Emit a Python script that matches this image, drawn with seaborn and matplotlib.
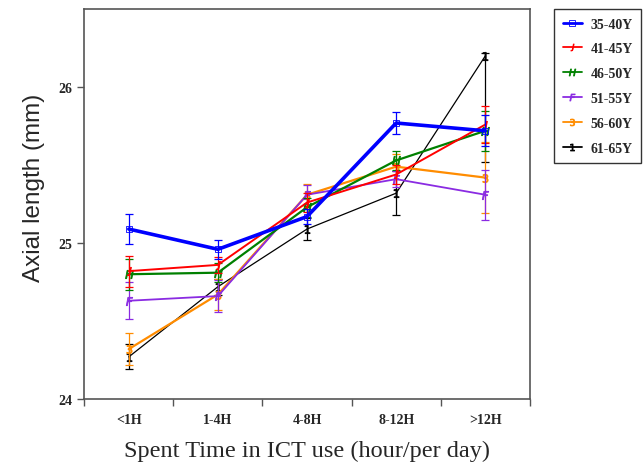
import numpy as np
import pandas as pd
import matplotlib
matplotlib.use("Agg")
import matplotlib.pyplot as plt
import seaborn as sns

categories = ['<1H', '1-4H', '4-8H', '8-12H', '>12H']
groups = ['35-40Y', '41-45Y', '46-50Y', '51-55Y', '56-60Y', '61-65Y']

y_35_40 = [25.09, 24.96, 25.17, 25.77, 25.72]
y_41_45 = [24.82, 24.86, 25.26, 25.44, 25.76]
y_46_50 = [24.80, 24.81, 25.23, 25.53, 25.72]
y_51_55 = [24.63, 24.66, 25.31, 25.41, 25.31]
y_56_60 = [24.32, 24.67, 25.31, 25.49, 25.42]
y_61_65 = [24.27, 24.72, 25.09, 25.32, 26.20]

# error bars (lower, upper)
e_35_40 = [[0.095, 0.06, 0.05, 0.07, 0.10], [0.095, 0.06, 0.05, 0.07, 0.10]]
e_41_45 = [[0.10, 0.05, 0.06, 0.06, 0.12], [0.10, 0.05, 0.06, 0.06, 0.12]]
e_46_50 = [[0.10, 0.06, 0.06, 0.06, 0.13], [0.10, 0.06, 0.06, 0.06, 0.13]]
e_51_55 = [[0.12, 0.10, 0.06, 0.05, 0.16], [0.12, 0.10, 0.06, 0.05, 0.16]]
e_56_60 = [[0.10, 0.10, 0.07, 0.08, 0.23], [0.10, 0.10, 0.07, 0.08, 0.23]]
e_61_65 = [[0.08, 0.05, 0.07, 0.14, 0.68], [0.08, 0.05, 0.07, 0.14, 0.02]]

values = [y_35_40, y_41_45, y_46_50, y_51_55, y_56_60, y_61_65]
errors = [e_35_40, e_41_45, e_46_50, e_51_55, e_56_60, e_61_65]

colors = ['#0000ff', '#ff0000', '#008000', '#8a2be2', '#ff8c00', '#000000']
markers = ['s', '$J$', '$H$', '$F$', '$3$', '$1$']
widths = [2.6, 1.4, 1.6, 1.3, 1.6, 0.9]

rows = []
for g, vals in zip(groups, values):
    for i, c in enumerate(categories):
        rows.append({'group': g, 'pos': i, 'time': c, 'al': vals[i]})
df = pd.DataFrame(rows)

sns.set_style('ticks')
plt.rcParams['font.family'] = ['Liberation Serif', 'DejaVu Serif']

fig = plt.figure(figsize=(6.43, 4.64), dpi=100)
ax = fig.add_axes([0.131, 0.138, 0.693, 0.840])

order = [5, 4, 3, 2, 1, 0]
for k in order:
    g = groups[k]
    sub = df[df['group'] == g]
    ax.errorbar(sub['pos'], sub['al'], yerr=np.array(errors[k]), fmt='none',
                ecolor=colors[k], elinewidth=0.9, capsize=3, capthick=0.9,
                zorder=2 + (6 - k))
    sns.lineplot(data=sub, x='pos', y='al', ax=ax, color=colors[k],
                 linewidth=widths[k], marker=markers[k],
                 markersize=5 if k == 0 else 6,
                 markerfacecolor='none' if k == 0 else colors[k],
                 markeredgecolor=colors[k], markeredgewidth=0.6,
                 label=g, zorder=3 + (6 - k), legend=False)

ax.set_xlim(-0.5, 4.5)
ax.set_ylim(24, 26.5)
ax.set_yticks([24, 25, 26])
ax.set_yticklabels(['24', '25', '26'], fontsize=10, fontweight='bold')
ax.set_xticks(range(5))
ax.set_xticklabels(categories, fontsize=10, fontweight='bold')
ax.tick_params(axis='x', which='major', length=0, pad=10)
ax.set_xticks(np.arange(-0.5, 5, 1), minor=True)
ax.tick_params(axis='x', which='minor', length=5, width=1, color='#555555')
ax.tick_params(axis='y', length=5, width=1, color='#555555')
for s in ax.spines.values():
    s.set_color('#555555')
    s.set_linewidth(1.2)

ax.set_xlabel('Spent Time in ICT use (hour/per day)', fontsize=17.5, labelpad=10)
ax.set_ylabel('Axial length (mm)', fontsize=17.5, family=['Liberation Sans'])
ax.yaxis.set_label_coords(-0.088, 0.545)

handles = []
for k in range(6):
    h, = ax.plot([], [], color=colors[k], linewidth=2 if k == 0 else 1.3,
                 marker=markers[k], markersize=5,
                 markerfacecolor='none' if k == 0 else colors[k],
                 markeredgecolor=colors[k], markeredgewidth=0.6)
    handles.append(h)
leg = fig.legend(handles, groups, loc='upper right', bbox_to_anchor=(0.997, 0.978),
                 frameon=True, fancybox=False, handlelength=1.4, handletextpad=0.6,
                 labelspacing=0.85, borderpad=0.6, borderaxespad=0.0,
                 prop={'weight': 'bold', 'size': 10})
leg.get_frame().set_edgecolor('black')
leg.get_frame().set_linewidth(1.0)

fig.savefig('out.png', dpi=100)
